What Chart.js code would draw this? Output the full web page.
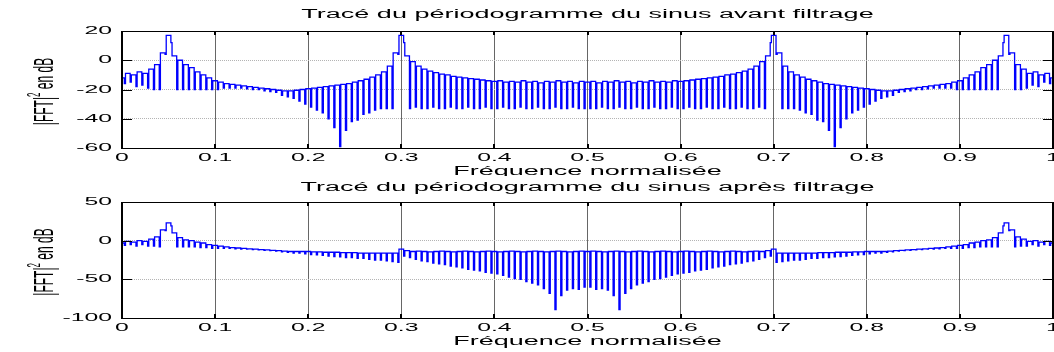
<!DOCTYPE html>
<html lang="fr">
<head>
<meta charset="utf-8">
<title>Périodogramme du sinus</title>
<script src="https://cdn.jsdelivr.net/npm/chart.js@4/dist/chart.umd.min.js"></script>
<style>
    html, body { margin: 0; padding: 0; background: #ffffff; }
    #cadre { position: relative; width: 1054px; height: 352px; overflow: hidden; }
    canvas { position: absolute; left: 0; }
    #graphAvant { top: 0; }
    #graphApres { top: 176px; }
</style>
</head>
<body>
<div id="cadre">
    <canvas id="graphAvant" width="1054" height="176"></canvas>
    <canvas id="graphApres" width="1054" height="176"></canvas>
</div>
<script>
// Graduations communes
const ticksFrequence = [0, 0.1, 0.2, 0.3, 0.4, 0.5, 0.6, 0.7, 0.8, 0.9, 1];
const labelsFrequence = ['0', '0.1', '0.2', '0.3', '0.4', '0.5', '0.6', '0.7', '0.8', '0.9', '1'];
const ticksAvant = [20, 0, -20, -40, -60];
const ticksApres = [50, 0, -50, -100];

// Périodogramme avant filtrage (dB) : sommet de chaque lobe puis creux qui le suit
const niveauxAvant = [
    -12, -9, -10, -8, -9, -6, -3, 5, 17, 3,
    0, -3, -5, -8, -10, -12, -14, -15, -16, -16.5,
    -17, -17.5, -18, -18.5, -19, -19.5, -20, -20.5, -21, -21,
    -20.5, -20, -19.5, -19, -18.5, -18, -17.5, -17, -16.5, -16,
    -15, -14, -13, -11.5, -10, -8, -4, 5, 17, 3,
    -1, -4, -6, -7.5, -8.5, -9.5, -10, -11, -11.5, -12,
    -12.5, -13, -13.5, -14, -14.5, -14, -15, -14.5, -15, -14,
    -15, -14.5, -15.5, -14.5, -15, -14, -15, -14.5, -15.5, -14.5,
    -15,
    -14.5, -15.5, -14.5, -15, -14, -15, -14.5, -15.5, -14.5, -15,
    -14, -15, -14.5, -15, -14, -14.5, -14, -13.5, -13, -12.5,
    -12, -11.5, -11, -10, -9.5, -8.5, -7.5, -6, -4, -1,
    3, 17, 5, -4, -8, -10, -11.5, -13, -14, -15,
    -16, -16.5, -17, -17.5, -18, -18.5, -19, -19.5, -20, -20.5,
    -21, -21, -20.5, -20, -19.5, -19, -18.5, -18, -17.5, -17,
    -16.5, -16, -15, -14, -12, -10, -8, -5, -3, 0,
    3, 17, 5, -3, -6, -9, -8, -10, -9, -12
];
const creuxAvant = [
    -16, -15, -18, -17, -19, -20, -20, 4, 12, -20,
    -20, -20, -20, -20, -20, -20, -20, -19, -19, -19,
    -19, -19.5, -20, -20, -21, -21.5, -22, -24, -25, -26,
    -28, -30, -32, -34, -36, -40, -46, -59, -48, -42,
    -41, -37, -36, -34, -33, -33, -33, 4, 12, -33,
    -32, -33, -33, -32, -33, -33, -32, -33, -33, -32,
    -33, -33, -32, -33, -33, -32, -33, -33, -32, -33,
    -33, -32, -33, -33, -32, -33, -33, -32, -33, -33,
    -33, -33, -32, -33, -33, -32, -33, -33, -32, -33,
    -33, -32, -33, -33, -32, -33, -33, -32, -33, -33,
    -32, -33, -33, -32, -33, -33, -32, -33, -33, -32,
    -33, 12, 4, -33, -33, -33, -34, -36, -37, -41,
    -42, -48, -59, -46, -40, -36, -34, -32, -30, -28,
    -26, -25, -24, -22, -21.5, -21, -20, -20, -19.5, -19,
    -19, -19, -19, -20, -20, -20, -20, -20, -20, -20,
    -20, 12, 4, -20, -20, -19, -17, -18, -15, -16,
    -16
];

// Périodogramme après filtrage (dB)
const niveauxApres = [
    -3, -1, -2, 0, -1, 2, 5, 14, 23, 10,
    4, 1, 0, -2, -3, -5, -6, -7, -8, -9,
    -9.5, -10, -10.5, -11, -11.5, -12, -12.5, -13, -13.5, -14,
    -14, -14, -14, -14.5, -14.5, -15, -15, -15, -15.5, -15.5,
    -15.5, -16, -16, -16, -16, -16, -16, -16, -11, -13,
    -14, -13.5, -14, -14.5, -14, -13.5, -14, -14.5, -14, -13.5,
    -14, -14.5, -14, -13.5, -14, -14.5, -14, -13.5, -14, -14.5,
    -14, -13.5, -14, -14.5, -14, -13.5, -14, -14.5, -14, -13.5,
    -14,
    -13.5, -14, -14.5, -14, -13.5, -14, -14.5, -14, -13.5, -14,
    -14.5, -14, -13.5, -14, -14.5, -14, -13.5, -14, -14.5, -14,
    -13.5, -14, -14.5, -14, -13.5, -14, -14.5, -14, -13.5, -14,
    -13, -11, -16, -16, -16, -16, -16, -16, -16, -15.5,
    -15.5, -15.5, -15, -15, -15, -14.5, -14.5, -14, -14, -14,
    -14, -13.5, -13, -12.5, -12, -11.5, -11, -10.5, -10, -9.5,
    -9, -8, -7, -6, -5, -3, -2, 0, 1, 4,
    10, 23, 14, 5, 2, -1, 0, -2, -1, -3
];
const creuxApres = [
    -6, -5, -7, -5, -7, -7, -8, 13, 19, -8,
    -8, -8, -8, -9, -9, -10, -10, -10, -10, -10.5,
    -11, -11, -11.5, -12, -12.5, -13, -13.5, -14.5, -15, -16,
    -16, -17, -18, -18.5, -19, -20, -20.5, -21, -22, -22,
    -23, -23, -24, -25, -25, -26, -27, -28, -20, -22,
    -24, -26, -27, -29, -30, -31, -33, -34, -35, -37,
    -38, -39, -41, -42, -43, -45, -47, -49, -50, -53,
    -55, -57, -62, -68, -89, -71, -64, -62, -63, -60,
    -60, -63, -62, -64, -71, -89, -68, -62, -57, -55,
    -53, -50, -49, -47, -45, -43, -42, -41, -39, -38,
    -37, -35, -34, -33, -31, -30, -29, -27, -26, -24,
    -22, -20, -28, -27, -26, -25, -25, -24, -23, -23,
    -22, -22, -21, -20.5, -20, -19, -18.5, -18, -17, -16,
    -16, -15, -14.5, -13.5, -13, -12.5, -12, -11.5, -11, -11,
    -10.5, -10, -10, -10, -10, -9, -9, -8, -8, -8,
    -8, 19, 13, -8, -7, -7, -5, -7, -5, -6,
    -6
];

// Rendu "étiré" horizontalement des textes, comme la figure d'origine
const ETIREMENT = 2.25;
const POLICE = '"Liberation Sans", Arial, Helvetica, sans-serif';
const BLEU = '#0000ff';

// Chaque lobe : palier au niveau du sommet puis creux étroit
const construirePoints = (niveaux, creux) => {
    const pas = 1 / (niveaux.length - 1);
    const points = [];
    niveaux.forEach((niveau, k) => {
        points.push({ x: (k - 0.4) * pas, y: niveau });
        points.push({ x: (k + 0.4) * pas, y: creux[k] });
    });
    return points;
};

const texteEtire = (ctx, texte, x, y, align) => {
    ctx.save();
    ctx.translate(x, y);
    ctx.scale(ETIREMENT, 1);
    ctx.textAlign = align;
    ctx.textBaseline = 'middle';
    ctx.fillText(texte, 0, 0);
    ctx.restore();
};

// |FFT|^2 en dB, écrit verticalement
const dessinerLabelY = (ctx, x, yCentre) => {
    const grand = '12px ' + POLICE;
    const petit = '8px ' + POLICE;
    ctx.save();
    ctx.translate(x, yCentre);
    ctx.scale(ETIREMENT, 1);
    ctx.rotate(-Math.PI / 2);
    ctx.textAlign = 'left';
    ctx.textBaseline = 'alphabetic';
    ctx.font = grand;
    const l1 = ctx.measureText('|FFT|').width;
    const l3 = ctx.measureText(' en dB').width;
    ctx.font = petit;
    const l2 = ctx.measureText('2').width;
    let u = -(l1 + l2 + l3) / 2;
    ctx.font = grand;
    ctx.fillText('|FFT|', u, 0);
    u += l1;
    ctx.font = petit;
    ctx.fillText('2', u, -6);
    u += l2;
    ctx.font = grand;
    ctx.fillText(' en dB', u, 0);
    ctx.restore();
};

// Cadre, graduations intérieures et textes
const habillage = {
    id: 'habillage',
    afterDraw(chart, args, opts) {
        const { ctx, chartArea: zone, scales } = chart;
        const { left, right, top, bottom } = zone;
        ctx.save();
        ctx.fillStyle = '#000000';
        ctx.strokeStyle = '#000000';

        // petites graduations vers l'intérieur
        ctx.lineWidth = 2;
        ticksFrequence.forEach(v => {
            const px = Math.round(scales.x.getPixelForValue(v));
            ctx.beginPath();
            ctx.moveTo(px, bottom);
            ctx.lineTo(px, bottom - 4);
            ctx.moveTo(px, top);
            ctx.lineTo(px, top + 4);
            ctx.stroke();
        });
        ctx.lineWidth = 1;
        opts.ticksY.forEach(v => {
            const py = Math.round(scales.y.getPixelForValue(v)) + 0.5;
            ctx.beginPath();
            ctx.moveTo(left, py);
            ctx.lineTo(left + 10, py);
            ctx.moveTo(right, py);
            ctx.lineTo(right - 10, py);
            ctx.stroke();
        });

        // cadre
        ctx.lineWidth = 1;
        ctx.beginPath();
        ctx.moveTo(left, top + 0.5);
        ctx.lineTo(right, top + 0.5);
        ctx.moveTo(left, bottom + 0.5);
        ctx.lineTo(right, bottom + 0.5);
        ctx.stroke();
        ctx.lineWidth = 2;
        ctx.beginPath();
        ctx.moveTo(left, top);
        ctx.lineTo(left, bottom + 1);
        ctx.moveTo(right, top);
        ctx.lineTo(right, bottom + 1);
        ctx.stroke();

        // étiquettes des graduations
        ctx.font = '11px ' + POLICE;
        ticksFrequence.forEach((v, i) => {
            texteEtire(ctx, labelsFrequence[i], scales.x.getPixelForValue(v), bottom + 10, 'center');
        });
        opts.ticksY.forEach(v => {
            texteEtire(ctx, String(v), left - 10, scales.y.getPixelForValue(v), 'right');
        });

        // titre et libellés des axes
        const centreX = (left + right) / 2;
        ctx.font = '12px ' + POLICE;
        texteEtire(ctx, opts.titre, centreX, top - opts.ecartTitre, 'center');
        texteEtire(ctx, 'Fréquence normalisée', centreX, bottom + 24, 'center');
        dessinerLabelY(ctx, 53, (top + bottom) / 2 + 2);
        ctx.restore();
    }
};

const creerGraphique = (idCanvas, points, yMin, yMax, ticksY, titre, ecartTitre, padding) => {
    const ctx = document.getElementById(idCanvas).getContext('2d');
    return new Chart(ctx, {
        type: 'line',
        data: {
            datasets: [{
                data: points,
                borderColor: BLEU,
                borderWidth: 1.3,
                pointRadius: 0,
                stepped: 'before',
                fill: false
            }]
        },
        options: {
            responsive: false,
            animation: false,
            events: [],
            layout: { padding },
            plugins: {
                legend: { display: false },
                tooltip: { enabled: false },
                habillage: { ticksY, titre, ecartTitre }
            },
            scales: {
                x: {
                    type: 'linear',
                    min: 0,
                    max: 1,
                    afterBuildTicks: axe => { axe.ticks = ticksFrequence.map(v => ({ value: v })); },
                    afterFit: axe => { axe.height = 24; },
                    ticks: { display: false },
                    grid: { color: '#666666', lineWidth: 1, drawTicks: false },
                    border: { display: false }
                },
                y: {
                    min: yMin,
                    max: yMax,
                    afterBuildTicks: axe => { axe.ticks = ticksY.map(v => ({ value: v })); },
                    afterFit: axe => { axe.width = 122; },
                    ticks: { display: false },
                    grid: { color: '#b4b4b4', lineWidth: 1, drawTicks: false, borderDash: [1, 1] },
                    border: { display: false, dash: [1, 1] }
                }
            }
        },
        plugins: [habillage]
    });
};

document.addEventListener('DOMContentLoaded', () => {
    creerGraphique('graphAvant', construirePoints(niveauxAvant, creuxAvant), -60, 20, ticksAvant,
        'Tracé du périodogramme du sinus avant filtrage', 16, { top: 31, right: 1, bottom: 4, left: 0 });
    creerGraphique('graphApres', construirePoints(niveauxApres, creuxApres), -100, 50, ticksApres,
        'Tracé du périodogramme du sinus après filtrage', 14, { top: 26, right: 1, bottom: 10, left: 0 });
});
</script>
</body>
</html>
